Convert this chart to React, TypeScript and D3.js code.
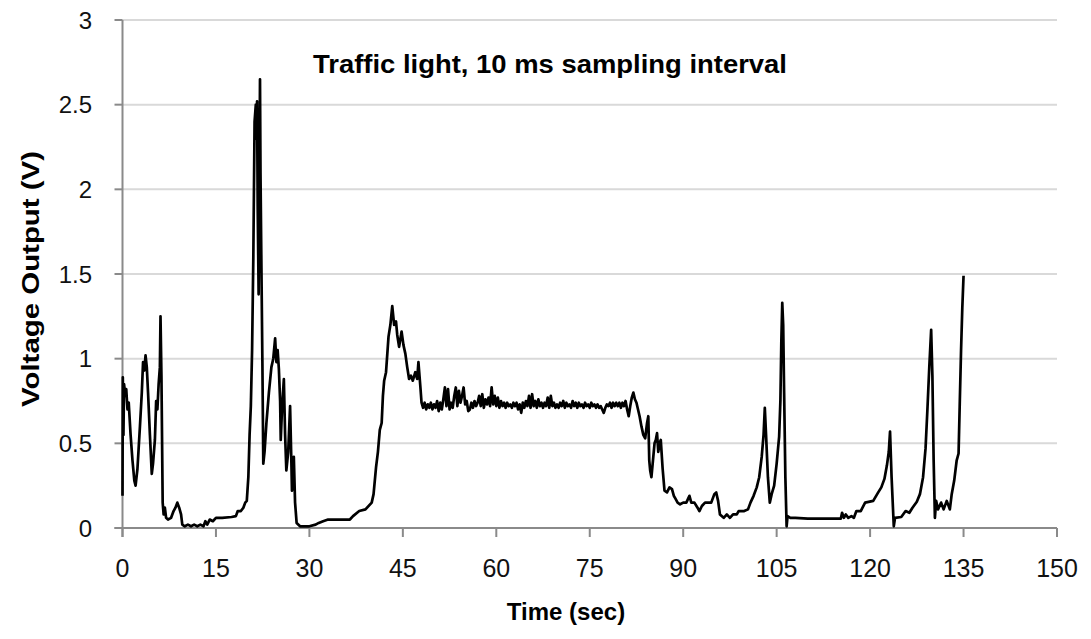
import React from "react";
import * as d3 from "d3";

// [time (s), voltage (V)], segment by segment
const burstStart: [number, number][] = [
  [0.0, 0.19], [0.05, 0.89], [0.15, 0.55], [0.25, 0.85], [0.45, 0.78], [0.6, 0.82],
  [0.8, 0.7], [1.0, 0.74], [1.3, 0.55], [1.6, 0.4], [1.9, 0.28], [2.1, 0.25],
  [2.4, 0.35], [2.8, 0.6], [3.1, 0.8], [3.3, 0.98], [3.5, 0.93], [3.7, 1.02],
  [3.9, 0.95], [4.1, 0.8], [4.4, 0.55], [4.7, 0.32], [4.9, 0.38], [5.2, 0.52],
  [5.4, 0.75], [5.6, 0.7], [5.8, 0.85], [6.0, 0.95], [6.1, 1.25], [6.25, 0.9],
  [6.45, 0.15], [6.6, 0.08], [6.8, 0.12], [7.0, 0.06], [7.3, 0.05], [7.8, 0.06],
  [8.2, 0.1], [8.5, 0.12], [8.8, 0.15], [9.1, 0.12], [9.4, 0.08], [9.6, 0.02],
  [10.0, 0.01], [10.5, 0.02], [11.0, 0.01], [11.5, 0.02], [12.0, 0.01], [12.5, 0.02],
  [13.0, 0.01], [13.3, 0.04], [13.6, 0.02], [14.0, 0.05], [14.5, 0.04], [15.0, 0.06],
  [16.0, 0.06], [17.5, 0.065], [18.2, 0.07], [18.5, 0.1], [19.0, 0.1], [19.4, 0.12],
  [19.7, 0.15], [19.95, 0.16],
];

const burstPeak: [number, number][] = [
  [20.2, 0.3], [20.4, 0.55], [20.6, 0.72], [20.8, 1.05], [21.0, 1.6], [21.2, 2.4],
  [21.4, 2.5], [21.5, 2.3], [21.6, 2.52], [21.7, 1.9], [21.85, 1.38], [22.0, 2.2],
  [22.07, 2.65], [22.15, 2.1], [22.3, 1.54], [22.45, 1.0], [22.6, 0.38], [22.8, 0.45],
  [23.1, 0.62], [23.5, 0.8], [23.9, 0.95], [24.2, 1.0], [24.5, 1.12], [24.7, 0.98],
  [24.9, 1.05], [25.1, 0.94], [25.3, 0.75], [25.4, 0.52], [25.6, 0.7], [25.9, 0.88],
  [26.1, 0.55], [26.3, 0.34], [26.6, 0.45], [26.9, 0.72], [27.1, 0.4], [27.2, 0.22],
  [27.5, 0.42], [27.7, 0.15], [27.95, 0.03], [28.5, 0.01], [30.0, 0.01], [31.0, 0.02],
  [31.5, 0.03], [32.2, 0.04], [33.0, 0.05], [35.0, 0.05], [36.5, 0.05], [37.0, 0.07],
  [38.0, 0.1], [39.0, 0.11], [40.0, 0.15],
];

const rise45: [number, number][] = [
  [40.3, 0.2], [40.7, 0.36], [41.0, 0.45], [41.3, 0.58], [41.6, 0.62], [41.8, 0.78],
  [42.0, 0.87], [42.3, 0.92], [42.7, 1.13], [43.0, 1.2], [43.3, 1.31], [43.6, 1.2],
  [43.9, 1.22], [44.1, 1.14], [44.4, 1.07], [44.8, 1.16], [45.1, 1.08], [45.4, 1.03],
  [45.7, 0.95], [46.0, 0.88], [46.3, 0.9], [46.6, 0.87], [47.0, 0.92], [47.3, 0.88],
  [47.5, 0.98], [47.8, 0.84], [48.0, 0.74],
];

const plateau: [number, number][] = [
  [48.25, 0.71], [48.5, 0.74], [48.75, 0.7], [49.0, 0.73], [49.25, 0.71], [49.5, 0.74],
  [49.75, 0.7], [50.0, 0.73], [50.25, 0.71], [50.5, 0.75], [50.75, 0.69], [51.0, 0.74],
  [51.25, 0.7], [51.5, 0.76], [51.75, 0.83], [52.0, 0.72], [52.25, 0.82], [52.5, 0.7],
  [52.75, 0.74], [53.0, 0.71], [53.25, 0.78], [53.5, 0.83], [53.75, 0.72], [54.0, 0.81],
  [54.25, 0.74], [54.5, 0.78], [54.75, 0.83], [55.0, 0.73], [55.25, 0.75], [55.5, 0.69],
  [55.75, 0.7], [56.0, 0.74], [56.25, 0.71], [56.5, 0.75], [56.75, 0.72], [57.0, 0.74],
  [57.25, 0.78], [57.5, 0.72], [57.75, 0.79], [58.0, 0.71], [58.25, 0.76], [58.5, 0.73],
  [58.75, 0.77], [59.0, 0.72], [59.25, 0.83], [59.5, 0.73], [59.75, 0.78], [60.0, 0.72],
  [60.25, 0.77], [60.5, 0.71], [60.75, 0.75], [61.0, 0.72], [61.25, 0.74], [61.5, 0.71],
  [61.75, 0.74], [62.0, 0.72], [62.25, 0.73], [62.5, 0.71], [62.75, 0.74], [63.0, 0.72],
  [63.25, 0.74], [63.5, 0.7], [63.75, 0.73], [64.0, 0.68], [64.25, 0.74], [64.5, 0.71],
  [64.75, 0.75], [65.0, 0.72], [65.25, 0.78], [65.5, 0.71], [65.75, 0.79], [66.0, 0.72],
  [66.25, 0.75], [66.5, 0.71], [66.75, 0.76], [67.0, 0.72], [67.25, 0.74], [67.5, 0.71],
  [67.75, 0.74], [68.0, 0.72], [68.25, 0.77], [68.5, 0.71], [68.75, 0.78], [69.0, 0.72],
  [69.25, 0.74], [69.5, 0.71], [69.75, 0.73], [70.0, 0.71], [70.25, 0.74], [70.5, 0.72],
  [70.75, 0.75], [71.0, 0.71], [71.25, 0.74], [71.5, 0.72], [71.75, 0.73], [72.0, 0.71],
  [72.25, 0.75], [72.5, 0.72], [72.75, 0.74], [73.0, 0.71], [73.25, 0.74], [73.5, 0.72],
  [73.75, 0.73], [74.0, 0.71], [74.25, 0.74], [74.5, 0.72], [74.75, 0.73], [75.0, 0.71],
  [75.25, 0.74], [75.5, 0.72], [75.75, 0.73], [76.0, 0.71], [76.25, 0.73], [76.5, 0.71],
  [76.75, 0.72], [77.0, 0.7], [77.25, 0.68], [77.5, 0.71], [77.75, 0.73], [78.0, 0.72],
  [78.25, 0.74], [78.5, 0.71], [78.75, 0.74], [79.0, 0.72], [79.25, 0.74], [79.5, 0.72],
  [79.75, 0.74], [80.0, 0.71], [80.25, 0.74], [80.5, 0.72], [80.75, 0.75], [81.0, 0.7],
  [81.25, 0.66], [81.5, 0.72], [81.75, 0.77], [82.0, 0.8], [82.25, 0.76], [82.5, 0.74],
];

const decline: [number, number][] = [
  [82.75, 0.7], [83.0, 0.66], [83.3, 0.6], [83.6, 0.55], [83.9, 0.53], [84.2, 0.62],
  [84.4, 0.66], [84.55, 0.4], [84.7, 0.34], [84.9, 0.3], [85.1, 0.38], [85.4, 0.5],
  [85.6, 0.52], [85.8, 0.56], [86.0, 0.45], [86.2, 0.5], [86.4, 0.52], [86.7, 0.35],
  [87.0, 0.22], [87.4, 0.21], [87.8, 0.24], [88.2, 0.23], [88.5, 0.19], [88.8, 0.17],
  [89.1, 0.15], [89.5, 0.14], [90.0, 0.15], [90.5, 0.15], [91.0, 0.19], [91.3, 0.15],
  [91.8, 0.15], [92.3, 0.12], [92.6, 0.1], [93.0, 0.13], [93.5, 0.15], [94.5, 0.15],
  [95.0, 0.2], [95.3, 0.21], [95.6, 0.16], [95.9, 0.08], [96.5, 0.06], [97.0, 0.08],
  [97.5, 0.06], [98.0, 0.08], [98.6, 0.08], [98.9, 0.1], [99.8, 0.1], [100.4, 0.11],
];

const spikes: [number, number][] = [
  [100.8, 0.15], [101.3, 0.19], [101.8, 0.24], [102.2, 0.3], [102.6, 0.42], [102.9, 0.55],
  [103.1, 0.71], [103.3, 0.55], [103.6, 0.3], [103.9, 0.15], [104.2, 0.2], [104.6, 0.25],
  [105.0, 0.38], [105.4, 0.54], [105.6, 0.75], [105.75, 1.1], [105.9, 1.33], [106.05, 1.2],
  [106.2, 0.8], [106.4, 0.3], [106.6, 0.01], [106.75, 0.07], [107.2, 0.06], [108.0, 0.06],
  [110.0, 0.055], [115.3, 0.055], [115.5, 0.09], [115.8, 0.06], [116.1, 0.08], [116.5, 0.06],
  [117.0, 0.07], [117.4, 0.06], [117.8, 0.1], [118.5, 0.1], [119.2, 0.15], [120.5, 0.16],
  [121.3, 0.21], [121.8, 0.24], [122.3, 0.29], [122.7, 0.37], [123.0, 0.45], [123.2, 0.57],
  [123.45, 0.3], [123.8, 0.01], [124.0, 0.06], [125.0, 0.065], [125.7, 0.1], [126.3, 0.09],
  [126.8, 0.12], [127.5, 0.155], [128.0, 0.2], [128.5, 0.3], [128.9, 0.47], [129.2, 0.7],
  [129.5, 0.95], [129.8, 1.17], [130.0, 0.9], [130.2, 0.4], [130.4, 0.06], [130.6, 0.16],
  [130.9, 0.11], [131.4, 0.15], [131.8, 0.11], [132.3, 0.16], [132.8, 0.11], [133.1, 0.2],
  [133.5, 0.28], [133.9, 0.4], [134.2, 0.44], [134.4, 0.75], [134.6, 1.05], [134.8, 1.3],
  [135.0, 1.49],
];

const xTicks = [0, 15, 30, 45, 60, 75, 90, 105, 120, 135, 150];
const yTicks = [0, 0.5, 1, 1.5, 2, 2.5, 3];
const yTickLabels = ["0", "0.5", "1", "1.5", "2", "2.5", "3"];

const title = "Traffic light, 10 ms sampling interval";
const xTitle = "Time (sec)";
const yTitle = "Voltage Output (V)";

export default function App() {
  const W = 1091;
  const H = 639;
  const x = d3.scaleLinear().domain([0, 150]).range([122.5, 1057]);
  const y = d3.scaleLinear().domain([0, 3]).range([528, 20]);
  const data = [...burstStart, ...burstPeak, ...rise45, ...plateau, ...decline, ...spikes];
  const line = d3
    .line<[number, number]>()
    .x((d) => x(d[0]))
    .y((d) => y(d[1]));
  const font = "'Liberation Sans', Arial, sans-serif";
  const axisColor = "#8a8a8a";
  return (
    <svg
      width={W}
      height={H}
      style={{ position: "absolute", left: 0, top: 0, background: "#fff" }}
      fontFamily={font}
    >
      <rect x={0} y={0} width={W} height={H} fill="#fff" />
      {yTicks
        .filter((t) => t > 0)
        .map((t) => (
          <line key={"g" + t} x1={x(0)} x2={x(150)} y1={y(t)} y2={y(t)} stroke="#d9d9d9" strokeWidth={2} />
        ))}
      {yTicks.map((t) => (
        <line key={"yt" + t} x1={x(0) - 8} x2={x(0)} y1={y(t)} y2={y(t)} stroke={axisColor} strokeWidth={2} />
      ))}
      {xTicks.map((t) => (
        <line key={"xt" + t} x1={x(t)} x2={x(t)} y1={y(0)} y2={y(0) + 9} stroke={axisColor} strokeWidth={2} />
      ))}
      <line x1={x(0)} x2={x(0)} y1={y(3)} y2={y(0) + 9} stroke={axisColor} strokeWidth={2} />
      <line x1={x(0) - 8} x2={x(150)} y1={y(0)} y2={y(0)} stroke={axisColor} strokeWidth={2} />
      <path d={line(data) || ""} fill="none" stroke="#000" strokeWidth={2.7} strokeLinejoin="round" />
      {yTicks.map((t, i) => (
        <text key={"yl" + t} x={92} y={y(t)} dy="0.36em" textAnchor="end" fontSize={24} fill="#111">
          {yTickLabels[i]}
        </text>
      ))}
      {xTicks.map((t) => (
        <text key={"xl" + t} x={x(t)} y={568} dy="0.36em" textAnchor="middle" fontSize={25} fill="#111">
          {t}
        </text>
      ))}
      <text x={550} y={73} textAnchor="middle" fontSize={25} fontWeight="bold" textLength={474} lengthAdjust="spacingAndGlyphs" fill="#000">
        {title}
      </text>
      <text x={566} y={620} textAnchor="middle" fontSize={24} fontWeight="bold" fill="#000">
        {xTitle}
      </text>
      <text
        transform={`translate(39, 279) rotate(-90)`}
        textAnchor="middle"
        fontSize={24}
        fontWeight="bold"
        textLength={256}
        lengthAdjust="spacingAndGlyphs"
        fill="#000"
      >
        {yTitle}
      </text>
    </svg>
  );
}
